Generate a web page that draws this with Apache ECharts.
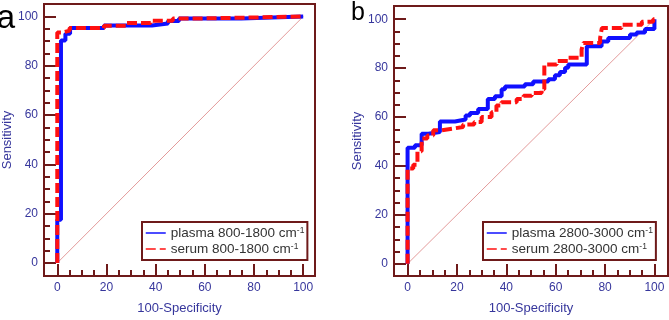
<!DOCTYPE html>
<html><head><meta charset="utf-8">
<script src="https://cdn.jsdelivr.net/npm/echarts@6/dist/echarts.min.js"></script>
<style>html,body{margin:0;padding:0;background:#fff}#c{width:669px;height:320px}</style>
</head><body><div id="c"></div>
<script>
// ---- data ----
const majorTicks = [0, 20, 40, 60, 80, 100];
const minorTicks = [5, 10, 15, 25, 30, 35, 45, 50, 55, 65, 70, 75, 85, 90, 95];
const diagonal = [[0, 0], [100, 100]];

const plasmaA = [[0,0],[0,17.5],[1.5,17.5],[1.5,90.3],[3.3,90.3],[3.3,93],[5.2,93],[5.2,95.4],[19,95.4],[19,96.4],[38.5,96.4],[38.5,97.2],[45,97.2],[45,98.2],[49.5,98.2],[49.5,99.2],[74.8,99.2],[74.8,100],[100,100]];
const serumA = [[0,0],[0,93.5],[2,93.5],[2,94.3],[5,94.3],[5,95.4],[19,95.4],[19,96.3],[28,96.3],[28,97.4],[38,97.4],[38,98.3],[47,98.3],[47,99.2],[56,99.2],[56,100],[100,100]];

const plasmaB = [[0,0],[0,47.4],[3,47.4],[3,48.5],[5.7,48.5],[5.7,53.2],[8.4,53.2],[8.4,53.9],[13.1,53.9],[13.1,58.2],[19.2,58.2],[19.2,59],[23.5,59],[23.5,60.6],[25.3,60.6],[25.3,61.7],[28.6,61.7],[28.6,63.3],[32.5,63.3],[32.5,67.4],[35.4,67.4],[35.4,68.5],[38.1,68.5],[38.1,71.4],[39.5,71.4],[39.5,72.5],[47.5,72.5],[47.5,73.4],[50.9,73.4],[50.9,74.5],[57,74.5],[57,75.5],[59.7,75.5],[59.7,77.1],[61.7,77.1],[61.7,78.4],[63.8,78.4],[63.8,80.2],[65.1,80.2],[65.1,81.5],[72.6,81.5],[72.6,88.9],[78.6,88.9],[78.6,90.9],[81.3,90.9],[81.3,92.3],[90.1,92.3],[90.1,93.7],[92.8,93.7],[92.8,94.6],[96.2,94.6],[96.2,96],[100,96],[100,100]];
const serumB = [[0,0],[0,39],[2.3,39],[2.3,40.5],[4,40.5],[4,46],[5.7,46],[5.7,51.2],[8,51.2],[8,52.5],[10.4,52.5],[10.4,54.6],[13.8,54.6],[13.8,55.3],[18.5,55.3],[18.5,55.9],[22.5,55.9],[22.5,56.9],[27,56.9],[27,58],[30,58],[30,60],[34,60],[34,62],[36,62],[36,64.7],[38,64.7],[38,66],[44.2,66],[44.2,67.4],[47,67.4],[47,68.7],[50.3,68.7],[50.3,69.8],[54.3,69.8],[54.3,71.4],[55.4,71.4],[55.4,81.5],[60.4,81.5],[60.4,82.9],[65.1,82.9],[65.1,84.2],[70.5,84.2],[70.5,87.6],[71.2,87.6],[71.2,90.3],[78,90.3],[78,92.3],[78.7,92.3],[78.7,96.4],[86.7,96.4],[86.7,97.7],[94.9,97.7],[94.9,99],[99.5,99],[99.5,100],[100,100]];

const namesA = ['plasma 800-1800 cm', 'serum 800-1800 cm'];
const namesB = ['plasma 2800-3000 cm', 'serum 2800-3000 cm'];
const xAxisTitle = '100-Specificity';
const yAxisTitle = 'Sensitivity';
const panelLetters = ['a', 'b'];

// ---- style ----
const FRAME = '#6e1a1a';
const LABEL = '#36369c';
const BLUE = '#1010ff';
const RED = '#ff1010';
const DIAG = '#e39a9a';
const FONT = 'Liberation Sans, Arial, sans-serif';

const chart = echarts.init(document.getElementById('c'), null, {renderer: 'canvas'});

const grids = [
  {left: 43, top: 4, width: 272, height: 273, xr: [-5.4, 104.8], yr: [-5.3, 105.1], xGap: 26, yGap: 30},
  {left: 394, top: 6, width: 274, height: 273, xr: [-5.5, 105.5], yr: [-5.0, 105.4], xGap: 26, yGap: 30}
];

const xAxes = [], yAxes = [];
grids.forEach((g, i) => {
  xAxes.push({
    type: 'value', gridIndex: i, min: g.xr[0], max: g.xr[1], position: 'bottom',
    name: xAxisTitle, nameLocation: 'middle', nameGap: g.xGap,
    nameTextStyle: {color: LABEL, fontSize: 13, fontFamily: FONT},
    axisLine: {show: false, onZero: false}, splitLine: {show: false},
    axisTick: {show: true, inside: true, length: 12, customValues: majorTicks, lineStyle: {color: FRAME, width: 2}},
    axisLabel: {show: true, customValues: majorTicks, color: LABEL, fontSize: 12, fontFamily: FONT, margin: 6}
  });
  xAxes.push({
    type: 'value', gridIndex: i, min: g.xr[0], max: g.xr[1], position: 'bottom',
    axisLine: {show: false, onZero: false}, splitLine: {show: false}, axisLabel: {show: false},
    axisTick: {show: true, inside: true, length: 6, customValues: minorTicks, lineStyle: {color: FRAME, width: 2}}
  });
  yAxes.push({
    type: 'value', gridIndex: i, min: g.yr[0], max: g.yr[1], position: 'left',
    name: yAxisTitle, nameLocation: 'middle', nameGap: g.yGap,
    nameTextStyle: {color: LABEL, fontSize: 13, fontFamily: FONT},
    axisLine: {show: false, onZero: false}, splitLine: {show: false},
    axisTick: {show: true, inside: true, length: 12, customValues: majorTicks, lineStyle: {color: FRAME, width: 2}},
    axisLabel: {show: true, customValues: majorTicks, color: LABEL, fontSize: 12, fontFamily: FONT, margin: 6}
  });
  yAxes.push({
    type: 'value', gridIndex: i, min: g.yr[0], max: g.yr[1], position: 'left',
    axisLine: {show: false, onZero: false}, splitLine: {show: false}, axisLabel: {show: false},
    axisTick: {show: true, inside: true, length: 6, customValues: minorTicks, lineStyle: {color: FRAME, width: 2}}
  });
});

function lineSeries(name, data, idx, color, dashed) {
  return {
    name: name, type: 'line', data: data, xAxisIndex: idx * 2, yAxisIndex: idx * 2,
    showSymbol: false, symbol: 'none', animation: false, clip: false,
    lineStyle: {color: color, width: 4, type: dashed ? [10, 4] : 'solid'},
    itemStyle: {color: color}, z: dashed ? 4 : 3
  };
}
function diagSeries(idx) {
  return {
    type: 'line', data: diagonal, xAxisIndex: idx * 2, yAxisIndex: idx * 2,
    showSymbol: false, symbol: 'none', animation: false, silent: true,
    lineStyle: {color: DIAG, width: 1}, z: 2
  };
}

const rich = {
  n: {fontSize: 13.5, color: '#333', fontFamily: FONT},
  s: {fontSize: 8.5, color: '#333', fontFamily: FONT, verticalAlign: 'top'}
};
function legendFor(names, left, top) {
  return {
    data: names, left: left, top: top, orient: 'vertical',
    itemWidth: 20, itemHeight: 10, itemGap: 2, padding: [4, 3, 4, 3],
    borderColor: FRAME, borderWidth: 2, backgroundColor: '#fff',
    lineStyle: {width: 1.5}, itemStyle: {opacity: 0}, selectedMode: false,
    textStyle: {rich: rich, padding: [0, 0, 0, 0]},
    formatter: nm => '{n|' + nm + '}{s|-1}'
  };
}

chart.setOption({
  animation: false,
  grid: grids.map(g => ({left: g.left, top: g.top, width: g.width, height: g.height, show: true, borderColor: FRAME, borderWidth: 2, backgroundColor: 'transparent'})),
  xAxis: xAxes,
  yAxis: yAxes,
  legend: [legendFor(namesA, 142, 222), legendFor(namesB, 483, 222)],
  series: [
    diagSeries(0), lineSeries(namesA[0], plasmaA, 0, BLUE, false), lineSeries(namesA[1], serumA, 0, RED, true),
    diagSeries(1), lineSeries(namesB[0], plasmaB, 1, BLUE, false), lineSeries(namesB[1], serumB, 1, RED, true)
  ],
  graphic: [
    {type: 'text', x: 15, y: 19, style: {text: panelLetters[0], fontSize: 33, fontFamily: FONT, fill: '#000', align: 'right', verticalAlign: 'middle'}},
    {type: 'text', x: 351, y: 13, style: {text: panelLetters[1], fontSize: 25, fontFamily: FONT, fill: '#000', align: 'left', verticalAlign: 'middle'}}
  ]
});
</script></body></html>
